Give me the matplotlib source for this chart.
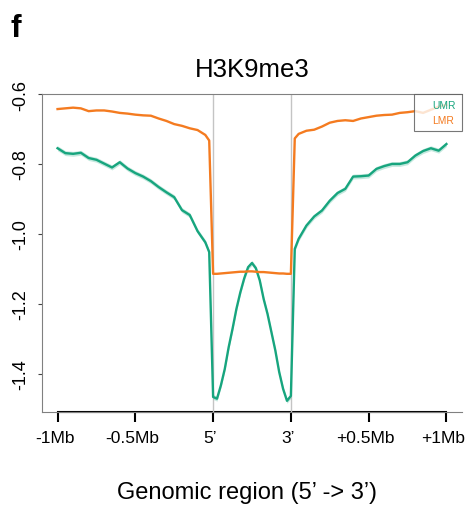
import matplotlib.pyplot as plt
import matplotlib.transforms as mtransforms
import numpy as np

plt.rcParams['font.family'] = ['Liberation Sans', 'DejaVu Sans']

# bin positions: -1Mb = 0, 5' = 40, 3' = 60, +1Mb = 100
bins = [0, 2, 4, 6, 8, 10, 12, 14, 16, 18, 20, 22, 24, 26, 28, 30, 32, 34, 36, 38, 39,
        40, 41, 42, 43, 44, 45, 46, 47, 48, 49, 50, 51, 52, 53, 54, 55, 56, 57, 58, 59, 60,
        61, 62, 64, 66, 68, 70, 72, 74, 76, 78, 80, 82, 84, 86, 88, 90, 92, 94, 96, 98, 100]

umr = [-0.755, -0.769, -0.771, -0.768, -0.783, -0.788, -0.799, -0.810, -0.795, -0.813, -0.826,
       -0.836, -0.849, -0.866, -0.881, -0.895, -0.932, -0.946, -0.992, -1.024, -1.052,
       -1.466, -1.471, -1.433, -1.386, -1.324, -1.271, -1.214, -1.167, -1.127, -1.095, -1.083,
       -1.098, -1.133, -1.186, -1.229, -1.281, -1.333, -1.395, -1.443, -1.477, -1.463,
       -1.043, -1.014, -0.976, -0.950, -0.933, -0.905, -0.883, -0.871, -0.836, -0.835, -0.833,
       -0.814, -0.806, -0.800, -0.800, -0.795, -0.776, -0.763, -0.755, -0.762, -0.743]

lmr = [-0.643, -0.641, -0.639, -0.641, -0.649, -0.647, -0.647, -0.650, -0.654, -0.656, -0.659,
       -0.661, -0.662, -0.670, -0.677, -0.686, -0.691, -0.698, -0.703, -0.717, -0.733,
       -1.114, -1.114, -1.113, -1.112, -1.111, -1.110, -1.109, -1.108, -1.108, -1.107, -1.107,
       -1.108, -1.109, -1.109, -1.110, -1.111, -1.112, -1.113, -1.113, -1.114, -1.114,
       -0.727, -0.714, -0.705, -0.702, -0.693, -0.682, -0.677, -0.675, -0.677, -0.670, -0.666,
       -0.662, -0.660, -0.659, -0.654, -0.652, -0.649, -0.654, -0.645, -0.636, -0.631]

umr_se = 0.007

x_ticks = [0, 20, 40, 60, 80, 100]
x_labels = ['-1Mb', '-0.5Mb', '5\u2019', '3\u2019', '+0.5Mb', '+1Mb']
y_ticks = [-0.6, -0.8, -1.0, -1.2, -1.4]
y_labels = ['-0.6', '-0.8', '-1.0', '-1.2', '-1.4']

green = '#17A57E'
orange = '#F47B20'

fig = plt.figure(figsize=(4.66, 5.10), dpi=100)
ax = fig.add_axes([0.0901, 0.1902, 0.9013, 0.6235])

ax.axvline(40, color='#c4c4c4', lw=1, zorder=1)
ax.axvline(60, color='#c4c4c4', lw=1, zorder=1)

u = np.array(umr)
ax.fill_between(bins, u - umr_se, u + umr_se, color=green, alpha=0.25, lw=0, zorder=2)
ax.plot(bins, umr, color=green, lw=1.7, label='UMR', zorder=3)
ax.plot(bins, lmr, color=orange, lw=1.7, label='LMR', zorder=4)

ax.set_xlim(-4, 104)
ax.set_ylim(-1.509, -0.6)

for s in ['top', 'left', 'bottom']:
    ax.spines[s].set_color('#808080')
    ax.spines[s].set_linewidth(0.8)
ax.spines['right'].set_visible(False)

ax.set_xticks([])
ax.set_yticks(y_ticks)
ax.set_yticklabels(y_labels, rotation=90, va='center')
ax.tick_params(axis='y', length=3, pad=6, labelsize=13, color='#444444')

sec = ax.secondary_xaxis('bottom')
sec.spines['bottom'].set_bounds(0, 100)
sec.spines['bottom'].set_color('black')
sec.spines['bottom'].set_linewidth(1.5)
sec.set_xticks(x_ticks)
sec.set_xticklabels(x_labels)
sec.tick_params(axis='x', length=7, width=1.5, pad=6, labelsize=12.5)
shift = mtransforms.ScaledTranslation(-3 / 100, 0, fig.dpi_scale_trans)
for lab in sec.get_xticklabels():
    lab.set_transform(lab.get_transform() + shift)

ax.set_title('H3K9me3', fontsize=18.5, pad=13)

leg = ax.legend(loc='upper right', handlelength=1.0, handletextpad=0.2, fontsize=7.4,
                borderaxespad=0, fancybox=False, edgecolor='#555555',
                labelcolor='linecolor', borderpad=0.6, labelspacing=0.5)
leg.get_frame().set_linewidth(0.8)
for h in leg.legend_handles:
    h.set_visible(False)

fig.text(0.0236, 0.9275, 'f', fontsize=23, fontweight='bold', va='baseline')
fig.text(0.530, 0.0333, 'Genomic region (5\u2019 -> 3\u2019)', ha='center', va='center', fontsize=17)

fig.savefig('out.png', dpi=100)
